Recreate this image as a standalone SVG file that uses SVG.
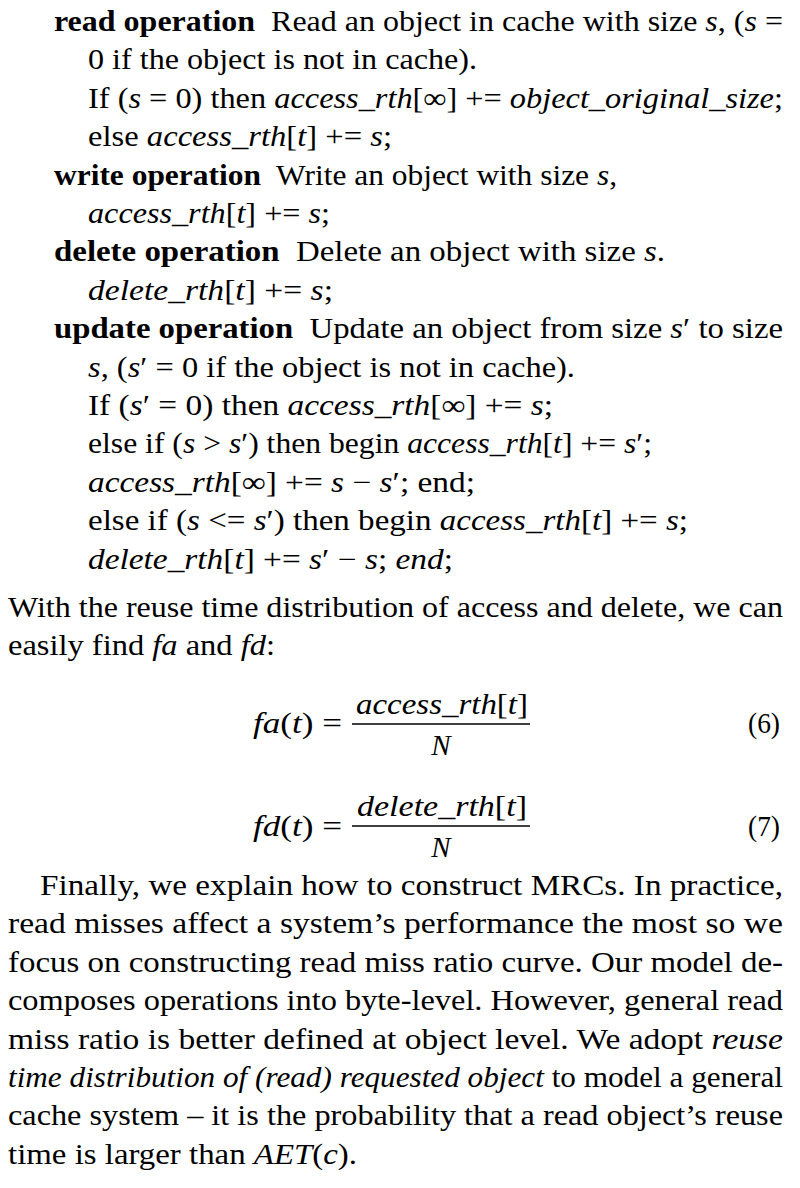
<svg xmlns="http://www.w3.org/2000/svg" width="800" height="1188" viewBox="0 0 800 1188">
<style>
.t{font-family:"Liberation Serif","Times New Roman",serif;font-size:29px;fill:#000}
.b{font-weight:bold}
.i{font-style:italic}
.bar{stroke:#000;stroke-width:1.4}
</style>
<rect width="800" height="1188" fill="#fff"/>
<g id="operations" class="t">
<text x="54" y="31" textLength="729" lengthAdjust="spacingAndGlyphs"><tspan class="b">read operation</tspan>&#160; Read an object in cache with size <tspan class="i">s</tspan>, (<tspan class="i">s</tspan> =</text>
<text x="88" y="69.4" textLength="389" lengthAdjust="spacingAndGlyphs">0 if the object is not in cache).</text>
<text x="88" y="107.8" textLength="695" lengthAdjust="spacingAndGlyphs">If (<tspan class="i">s</tspan> = 0) then <tspan class="i">access_rth</tspan>[∞] += <tspan class="i">object_original_size</tspan>;</text>
<text x="88" y="146.2" textLength="304" lengthAdjust="spacingAndGlyphs">else <tspan class="i">access_rth</tspan>[<tspan class="i">t</tspan>] += <tspan class="i">s</tspan>;</text>
<text x="54" y="184.6" textLength="563" lengthAdjust="spacingAndGlyphs"><tspan class="b">write operation</tspan>&#160; Write an object with size <tspan class="i">s</tspan>,</text>
<text x="88" y="223" textLength="242" lengthAdjust="spacingAndGlyphs"><tspan class="i">access_rth</tspan>[<tspan class="i">t</tspan>] += <tspan class="i">s</tspan>;</text>
<text x="54" y="261.4" textLength="611" lengthAdjust="spacingAndGlyphs"><tspan class="b">delete operation</tspan>&#160; Delete an object with size <tspan class="i">s</tspan>.</text>
<text x="88" y="299.8" textLength="245" lengthAdjust="spacingAndGlyphs"><tspan class="i">delete_rth</tspan>[<tspan class="i">t</tspan>] += <tspan class="i">s</tspan>;</text>
<text x="54" y="338.2" textLength="729" lengthAdjust="spacingAndGlyphs"><tspan class="b">update operation</tspan>&#160; Update an object from size <tspan class="i">s</tspan>′ to size</text>
<text x="88" y="376.6" textLength="487" lengthAdjust="spacingAndGlyphs"><tspan class="i">s</tspan>, (<tspan class="i">s</tspan>′ = 0 if the object is not in cache).</text>
<text x="88" y="415" textLength="465" lengthAdjust="spacingAndGlyphs">If (<tspan class="i">s</tspan>′ = 0) then <tspan class="i">access_rth</tspan>[∞] += <tspan class="i">s</tspan>;</text>
<text x="88" y="453.4" textLength="564" lengthAdjust="spacingAndGlyphs">else if (<tspan class="i">s</tspan> &gt; <tspan class="i">s</tspan>′) then begin <tspan class="i">access_rth</tspan>[<tspan class="i">t</tspan>] += <tspan class="i">s</tspan>′;</text>
<text x="88" y="491.8" textLength="387" lengthAdjust="spacingAndGlyphs"><tspan class="i">access_rth</tspan>[∞] += <tspan class="i">s</tspan> − <tspan class="i">s</tspan>′; end;</text>
<text x="88" y="530.2" textLength="600" lengthAdjust="spacingAndGlyphs">else if (<tspan class="i">s</tspan> &lt;= <tspan class="i">s</tspan>′) then begin <tspan class="i">access_rth</tspan>[<tspan class="i">t</tspan>] += <tspan class="i">s</tspan>;</text>
<text x="88" y="568.6" textLength="365" lengthAdjust="spacingAndGlyphs"><tspan class="i">delete_rth</tspan>[<tspan class="i">t</tspan>] += <tspan class="i">s</tspan>′ − <tspan class="i">s</tspan>; <tspan class="i">end</tspan>;</text>
</g>
<g id="intro" class="t">
<text x="8" y="617" textLength="775" lengthAdjust="spacingAndGlyphs">With the reuse time distribution of access and delete, we can</text>
<text x="8" y="655" textLength="267" lengthAdjust="spacingAndGlyphs">easily find <tspan class="i">fa</tspan> and <tspan class="i">fd</tspan>:</text>
</g>
<g id="eq6" class="t">
<text x="253" y="733" textLength="89" lengthAdjust="spacingAndGlyphs"><tspan class="i">fa</tspan>(<tspan class="i">t</tspan>) =</text>
<text x="356" y="714" textLength="172" lengthAdjust="spacingAndGlyphs"><tspan class="i">access_rth</tspan>[<tspan class="i">t</tspan>]</text>
<line class="bar" x1="352" y1="724" x2="530" y2="724"/>
<text x="441" y="755" text-anchor="middle" class="i">N</text>
<text x="748" y="733" textLength="32" lengthAdjust="spacingAndGlyphs">(6)</text>
</g>
<g id="eq7" class="t">
<text x="253" y="836" textLength="89" lengthAdjust="spacingAndGlyphs"><tspan class="i">fd</tspan>(<tspan class="i">t</tspan>) =</text>
<text x="357" y="816" textLength="170" lengthAdjust="spacingAndGlyphs"><tspan class="i">delete_rth</tspan>[<tspan class="i">t</tspan>]</text>
<line class="bar" x1="352" y1="826" x2="530" y2="826"/>
<text x="441" y="857" text-anchor="middle" class="i">N</text>
<text x="748" y="836" textLength="32" lengthAdjust="spacingAndGlyphs">(7)</text>
</g>
<g id="paragraph" class="t">
<text x="40" y="895" textLength="743" lengthAdjust="spacingAndGlyphs">Finally, we explain how to construct MRCs. In practice,</text>
<text x="8" y="933.4" textLength="775" lengthAdjust="spacingAndGlyphs">read misses affect a system’s performance the most so we</text>
<text x="8" y="971.8" textLength="775" lengthAdjust="spacingAndGlyphs">focus on constructing read miss ratio curve. Our model de-</text>
<text x="8" y="1010.2" textLength="775" lengthAdjust="spacingAndGlyphs">composes operations into byte-level. However, general read</text>
<text x="8" y="1048.6" textLength="775" lengthAdjust="spacingAndGlyphs">miss ratio is better defined at object level. We adopt <tspan class="i">reuse</tspan></text>
<text x="8" y="1087" textLength="775" lengthAdjust="spacingAndGlyphs"><tspan class="i">time distribution of (read) requested object</tspan> to model a general</text>
<text x="8" y="1125.4" textLength="775" lengthAdjust="spacingAndGlyphs">cache system – it is the probability that a read object’s reuse</text>
<text x="8" y="1163.8" textLength="349" lengthAdjust="spacingAndGlyphs">time is larger than <tspan class="i">AET</tspan>(<tspan class="i">c</tspan>).</text>
</g>
</svg>
